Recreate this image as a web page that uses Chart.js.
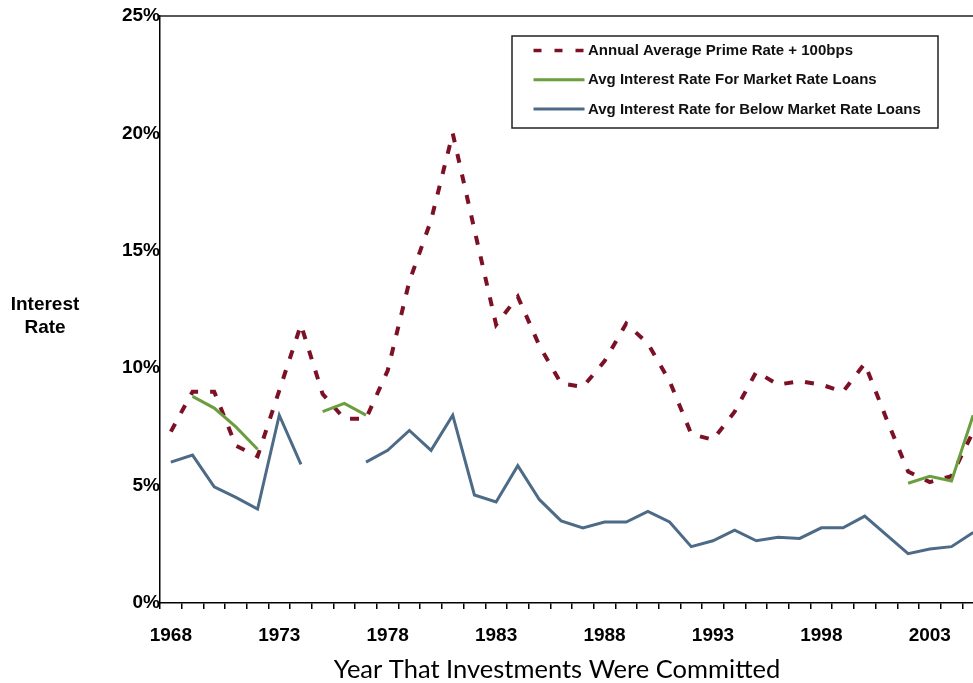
<!DOCTYPE html>
<html>
<head>
<meta charset="utf-8">
<script src="https://cdn.jsdelivr.net/npm/chart.js@4/dist/chart.umd.min.js"></script>
<style>
  html, body { margin: 0; padding: 0; background: #fff; overflow: hidden; }
  #wrap { width: 990px; height: 683px; }
</style>
</head>
<body>
<div id="wrap"><canvas id="c" width="990" height="683"></canvas></div>
<script>
// ---- Data ----
const years = [1968,1969,1970,1971,1972,1973,1974,1975,1976,1977,1978,1979,1980,1981,1982,1983,1984,1985,1986,1987,1988,1989,1990,1991,1992,1993,1994,1995,1996,1997,1998,1999,2000,2001,2002,2003,2004,2005];
const tickYears = [1968,1973,1978,1983,1988,1993,1998,2003];
const yTicks = [0,5,10,15,20,25];

const primePlus100 = [7.3,9.0,9.0,6.7,6.25,9.05,11.85,8.9,7.85,7.85,9.9,13.7,16.3,20.0,15.9,11.85,13.05,10.95,9.35,9.2,10.3,11.9,11.05,9.45,7.2,6.95,8.15,9.85,9.3,9.45,9.3,9.0,10.2,7.85,5.6,5.15,5.4,7.3];
const marketRate = [null,8.8,8.3,7.5,6.55,null,null,8.15,8.5,8.0,
  null,null,null,null,null,null,null,null,null,null,null,null,null,null,null,null,null,null,null,null,null,null,null,null,
  5.1,5.4,5.2,8.0];
const belowMarket = [6.0,6.3,4.95,4.5,4.0,8.0,5.9,null,null,6.0,6.5,7.35,6.5,8.0,4.6,4.3,5.85,4.4,3.5,3.2,3.45,3.45,3.9,3.45,2.4,2.65,3.1,2.65,2.8,2.75,3.2,3.2,3.7,2.9,2.1,2.3,2.4,3.0];

const seriesNames = [
  'Annual Average Prime Rate + 100bps',
  'Avg Interest Rate For Market Rate Loans',
  'Avg Interest Rate for Below Market Rate Loans'
];
const yAxisTitle = ['Interest', 'Rate'];
const xAxisTitle = 'Year That Investments Were Committed';

const RED = '#7c1126', GREEN = '#6b9e3e', BLUE = '#4d6b86';
const FONT = '"Liberation Sans", Arial, sans-serif';

Chart.defaults.color = '#000';

const decor = {
  id: 'decor',
  afterDraw(chart) {
    const ctx = chart.ctx, a = chart.chartArea;
    ctx.save();
    // top / right frame
    ctx.strokeStyle = '#222';
    ctx.lineWidth = 1.5;
    ctx.beginPath();
    ctx.moveTo(a.left, a.top);
    ctx.lineTo(a.right, a.top);
    ctx.lineTo(a.right, a.bottom);
    ctx.stroke();

    // y axis title (horizontal, two lines)
    ctx.fillStyle = '#000';
    ctx.font = 'bold 19px ' + FONT;
    ctx.textAlign = 'center';
    ctx.textBaseline = 'middle';
    ctx.fillText(yAxisTitle[0], 45, 305);
    ctx.fillText(yAxisTitle[1], 45, 328);

    // x axis title
    ctx.font = '25.5px Lato, "Open Sans", sans-serif';
    ctx.fillText(xAxisTitle, a.left + 397, 670);

    // legend box
    const bx = a.left + 352, by = a.top + 20, bw = 426, bh = 92;
    ctx.fillStyle = '#fff';
    ctx.fillRect(bx, by, bw, bh);
    ctx.strokeStyle = '#222';
    ctx.lineWidth = 1.5;
    ctx.strokeRect(bx, by, bw, bh);
    ctx.font = 'bold 15px ' + FONT;
    ctx.textAlign = 'left';
    chart.data.datasets.forEach((ds, i) => {
      const y = by + 14.5 + i * 29.3;
      ctx.save();
      ctx.strokeStyle = ds.borderColor;
      ctx.lineWidth = ds.borderWidth === 4 ? 3.5 : 3;
      ctx.setLineDash(ds.borderDash ? [8, 13] : []);
      ctx.lineCap = 'butt';
      ctx.beginPath();
      ctx.moveTo(bx + 21.5, y);
      ctx.lineTo(bx + 72.5, y);
      ctx.stroke();
      ctx.restore();
      ctx.fillStyle = '#111';
      ctx.fillText(ds.label, bx + 76, y + 0.5);
    });
    ctx.restore();
  }
};

new Chart(document.getElementById('c'), {
  type: 'line',
  data: {
    labels: years.map(String),
    datasets: [
      { label: seriesNames[0], data: primePlus100, borderColor: RED, backgroundColor: RED,
        borderWidth: 4, borderDash: [9, 12], borderCapStyle: 'butt', pointRadius: 0, tension: 0, order: 1 },
      { label: seriesNames[1], data: marketRate, borderColor: GREEN, backgroundColor: GREEN,
        borderWidth: 3, pointRadius: 0, tension: 0, spanGaps: false, order: 0 },
      { label: seriesNames[2], data: belowMarket, borderColor: BLUE, backgroundColor: BLUE,
        borderWidth: 3, pointRadius: 0, tension: 0, spanGaps: false, order: 2 }
    ]
  },
  options: {
    responsive: false,
    animation: false,
    events: [],
    layout: { padding: { top: 16, right: 6, left: 0, bottom: 0 } },
    plugins: { legend: { display: false }, tooltip: { enabled: false }, title: { display: false } },
    scales: {
      x: {
        type: 'category',
        offset: true,
        grid: { offset: true, drawOnChartArea: false, drawTicks: true, tickLength: 6, color: '#000', lineWidth: 1.5 },
        border: { display: true, color: '#000', width: 1.5 },
        ticks: {
          autoSkip: false, maxRotation: 0, minRotation: 0, padding: 15,
          font: { family: FONT, size: 19, weight: 'bold' }, color: '#000',
          callback: (v, i) => tickYears.includes(years[i]) ? String(years[i]) : ''
        },
        afterFit: (s) => { s.height = 80; }
      },
      y: {
        min: 0, max: 25,
        afterBuildTicks: (s) => { s.ticks = yTicks.map(v => ({ value: v })); },
        grid: { display: false, drawTicks: false },
        border: { display: true, color: '#000', width: 1.5 },
        ticks: {
          padding: 0,
          font: { family: FONT, size: 19, weight: 'bold' }, color: '#000',
          callback: (v) => v + '%'
        },
        afterFit: (s) => { s.width = 160; }
      }
    }
  },
  plugins: [decor]
});
</script>
</body>
</html>
